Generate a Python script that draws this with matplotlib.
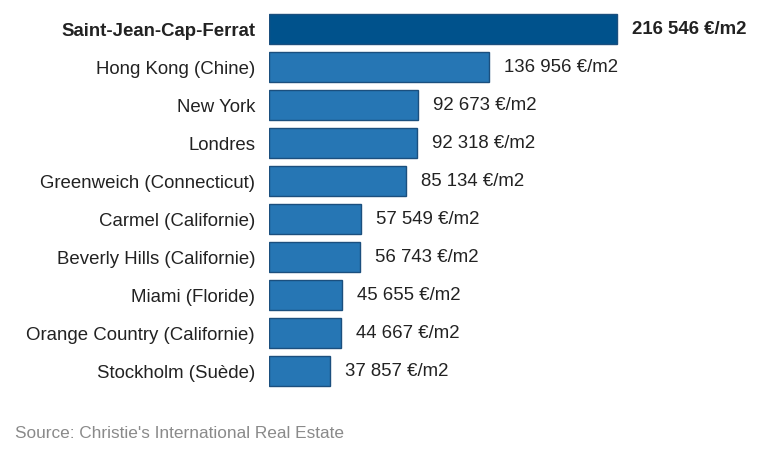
import matplotlib
matplotlib.use("Agg")
import matplotlib.pyplot as plt

cities = ["Saint-Jean-Cap-Ferrat", "Hong Kong (Chine)", "New York", "Londres",
          "Greenweich (Connecticut)", "Carmel (Californie)", "Beverly Hills (Californie)",
          "Miami (Floride)", "Orange Country (Californie)", "Stockholm (Suède)"]
prices = [216546, 136956, 92673, 92318, 85134, 57549, 56743, 45655, 44667, 37857]
value_labels = ["216 546 €/m2", "136 956 €/m2", "92 673 €/m2", "92 318 €/m2",
                "85 134 €/m2", "57 549 €/m2", "56 743 €/m2", "45 655 €/m2",
                "44 667 €/m2", "37 857 €/m2"]
source = "Source: Christie's International Real Estate"

plt.rcParams['font.family'] = ['Liberation Sans', 'DejaVu Sans']

W, H = 780, 457
fig = plt.figure(figsize=(W / 100, H / 100), dpi=100)
left_px, right_px, top_px, bot_px = 269, 770, 10, 390
ax = fig.add_axes([left_px / W, 1 - bot_px / H, (right_px - left_px) / W, (bot_px - top_px) / H])

ypos = list(range(len(cities)))
colors = ["#00528C"] + ["#2676B4"] * (len(cities) - 1)
ax.barh(ypos, prices, height=0.79, color=colors, edgecolor="#1B4F7E", linewidth=1.0)

px_per_unit = 348 / 216546
xmax = (right_px - left_px) / px_per_unit
ax.set_xlim(0, xmax)
ax.set_ylim(len(cities) - 0.5, -0.5)

FS = 13.4
offset = 15 / px_per_unit
for i, (v, lab) in enumerate(zip(prices, value_labels)):
    ax.text(v + offset, i, lab, va="center", ha="left", fontsize=FS,
            color="#222222", fontweight="bold" if i == 0 else "normal")

ax.set_yticks(ypos)
ax.set_yticklabels(cities, fontsize=FS, color="#222222")
ax.get_yticklabels()[0].set_fontweight("bold")
ax.tick_params(axis="y", length=0, pad=10)
ax.set_xticks([])
for s in ax.spines.values():
    s.set_visible(False)

fig.text(15 / W, 1 - 433 / H, source, fontsize=12.4, color="#8A8A8A", va="center", ha="left")

fig.savefig("out.png", dpi=100)
